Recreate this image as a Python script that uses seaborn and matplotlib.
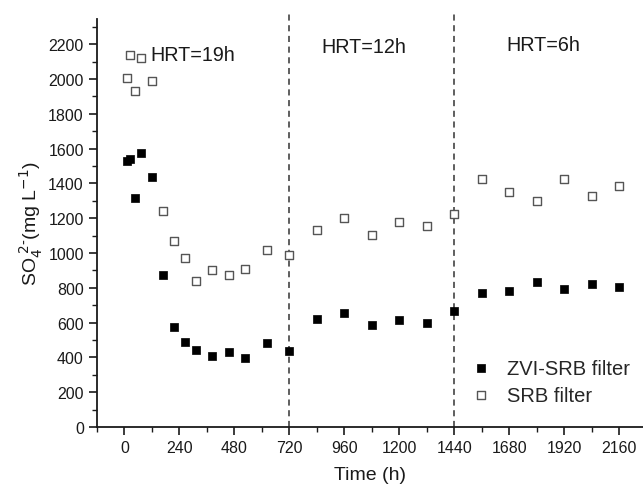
import matplotlib
matplotlib.use("Agg")
import matplotlib.pyplot as plt
import seaborn as sns
import pandas as pd
from matplotlib.ticker import MultipleLocator

time_h = [12, 24, 48, 72, 120, 168, 216, 264, 312, 384, 456, 528, 624, 720,
          840, 960, 1080, 1200, 1320, 1440, 1560, 1680, 1800, 1920, 2040, 2160]
zvi_srb = [1530, 1540, 1314, 1575, 1438, 873, 576, 487, 442, 408, 433, 398, 483, 437,
           621, 653, 588, 615, 599, 665, 772, 782, 831, 795, 820, 803]
srb = [2006, 2140, 1929, 2118, 1987, 1240, 1067, 971, 837, 902, 873, 908, 1019, 990,
       1130, 1201, 1103, 1176, 1157, 1224, 1425, 1353, 1301, 1425, 1326, 1383]
series_labels = ["ZVI-SRB filter", "SRB filter"]
phase_bounds = [720, 1440]
phase_labels = ["HRT=19h", "HRT=12h", "HRT=6h"]
phase_label_x = [300, 1047, 1828]
phase_label_y = [2140, 2185, 2200]
xticks = [0, 240, 480, 720, 960, 1200, 1440, 1680, 1920, 2160]
yticks = list(range(0, 2201, 200))

sns.set_theme(style="white")
plt.rcParams['font.family'] = ['Liberation Sans', 'DejaVu Sans']

df_z = pd.DataFrame({"t": time_h, "v": zvi_srb})
df_s = pd.DataFrame({"t": time_h, "v": srb})

fig = plt.figure(figsize=(6.43, 4.89), dpi=100)
ax = fig.add_axes([97/643, 61/489, 546/643, 408/489])

sns.scatterplot(data=df_z, x="t", y="v", ax=ax, marker="s", s=40,
                color="black", edgecolor="black", linewidth=0.5,
                label=series_labels[0], zorder=3)
sns.scatterplot(data=df_s, x="t", y="v", ax=ax, marker="s", s=36,
                facecolor="white", edgecolor="#555555", linewidth=1.0,
                label=series_labels[1], zorder=3)

for xb in phase_bounds:
    ax.axvline(xb, ymin=0, ymax=1.018, color="#333333", linestyle=(0, (4, 3)),
               linewidth=1.1, clip_on=False, zorder=2)

for lab, lx, ly in zip(phase_labels, phase_label_x, phase_label_y):
    ax.text(lx, ly, lab, fontsize=14.2, ha="center", va="center", color="#1a1a1a")

ax.set_xlim(-120, 2264)
ax.set_ylim(0, 2345)
ax.set_xticks(xticks)
ax.set_yticks(yticks)
ax.xaxis.set_minor_locator(MultipleLocator(120))
ax.yaxis.set_minor_locator(MultipleLocator(100))
ax.tick_params(axis="both", which="major", direction="out", length=6, width=1.2,
               labelsize=11.5, colors="#1a1a1a", bottom=True, left=True)
ax.tick_params(axis="both", which="minor", direction="out", length=3.5, width=1.0,
               bottom=True, left=True, colors="#1a1a1a")

for side in ["top", "right"]:
    ax.spines[side].set_visible(False)
for side in ["left", "bottom"]:
    ax.spines[side].set_color("#1a1a1a")
    ax.spines[side].set_linewidth(1.3)

ax.set_xlabel("Time (h)", fontsize=14, color="#1a1a1a", labelpad=8)
ax.set_ylabel("SO$_4^{\\ 2\\text{-}}$(mg L$^{-1}$)", fontsize=14, color="#1a1a1a", labelpad=2)

leg = ax.legend(loc="lower left", bbox_to_anchor=(0.652, 0.035), frameon=False,
                fontsize=14.5, handletextpad=0.3, labelspacing=0.4, borderaxespad=0,
                markerscale=1.0)

fig.savefig("out.png", dpi=100)
